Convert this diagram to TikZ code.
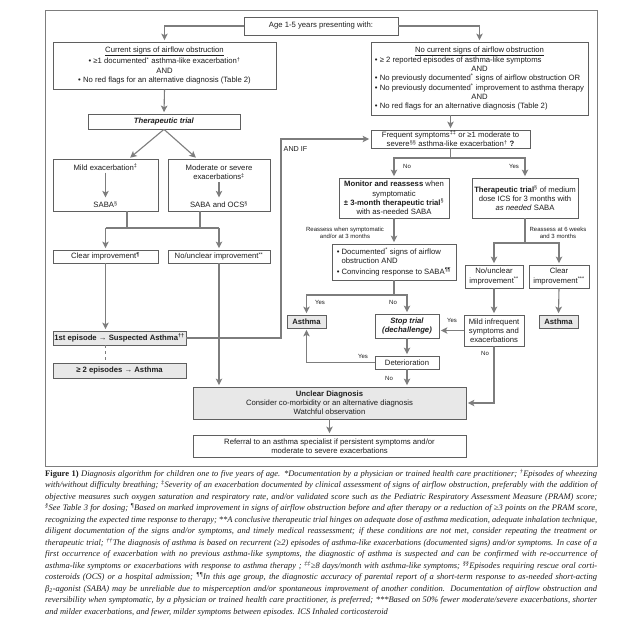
\documentclass[tikz,border=0pt]{standalone}
\usepackage{fontspec}
\setmainfont{Liberation Serif}
\setsansfont{Liberation Sans}
\usetikzlibrary{arrows.meta}
\definecolor{qline}{RGB}{125,125,125}
\definecolor{qbox}{RGB}{95,95,95}
\definecolor{qfill}{RGB}{232,232,232}
\definecolor{qtext}{RGB}{30,30,30}

\begin{document}
\begin{tikzpicture}[x=1pt,y=-1pt,
  box/.style={draw=qbox, line width=0.7pt, inner sep=1pt, align=center, text=qtext,
    font=\sffamily\fontsize{7.7}{9.2}\selectfont},
  grey/.style={box, fill=qfill},
  txt/.style={inner sep=2pt, align=center, text=qtext, font=\sffamily\fontsize{7.7}{9.2}\selectfont},
  lbl/.style={inner sep=0pt, align=center, text=qtext, font=\sffamily\fontsize{6}{7.2}\selectfont},
  link/.style={draw=qline, line width=1.1pt},
  arr/.style={link, -{Stealth[length=6.5pt,width=6.5pt,inset=1.5pt]}, shorten >=1.5pt}]
\useasboundingbox (0,0) rectangle (640,630);
\fill[white] (0,0) rectangle (640,630);

\draw[qline, line width=0.6pt] (45,10) rectangle (597,466);

\node[box, minimum width=154pt, minimum height=18pt] (age) at (321,26) {Age 1-5 years presenting with:};

\node[box, minimum width=223pt, minimum height=47pt] (cur) at (164.5,65.5)
  {\underline{Current signs of airflow obstruction}\\
   • ≥1 documented\textsuperscript{*} asthma-like exacerbation\textsuperscript{†}\\
   AND\\
   • No red flags for an alternative diagnosis (Table 2)};

\node[box, minimum width=217pt, minimum height=73pt] (ncur) at (479.5,78.5)
  {\begin{tabular}{@{}l@{}}
   \multicolumn{1}{@{}c@{}}{\underline{No current signs of airflow obstruction}}\\
   • ≥ 2 reported episodes of asthma-like symptoms\\
   \multicolumn{1}{@{}c@{}}{AND}\\
   • No previously documented\textsuperscript{*} signs of airflow obstruction OR\\
   • No previously documented\textsuperscript{*} improvement to asthma therapy\\
   \multicolumn{1}{@{}c@{}}{AND}\\
   • No red flags for an alternative diagnosis (Table 2)
   \end{tabular}};

\node[box, minimum width=152pt, minimum height=15pt] (ttrial) at (164,121.5) {\textbf{\textit{Therapeutic trial}}};

\node[box, minimum width=105pt, minimum height=52pt] (mild) at (105.5,185) {};
\node[txt] (mildtop) at (105.5,167) {Mild exacerbation\textsuperscript{‡}};
\node[txt] (mildsaba) at (105.5,204.5) {SABA\textsuperscript{§}};

\node[box, minimum width=102pt, minimum height=52pt] (mod) at (219,185) {};
\node[txt] (modtop) at (219,172.5) {Moderate or severe\\ exacerbations\textsuperscript{‡}};
\node[txt] (modsaba) at (219,204.5) {SABA and OCS\textsuperscript{§}};

\node[box, minimum width=105pt, minimum height=13pt] (clear) at (105.5,256.5) {Clear improvement\textsuperscript{\textbf{¶}}};
\node[box, minimum width=102pt, minimum height=13pt] (nounc) at (219,256.5) {No/unclear improvement\textsuperscript{**}};

\node[grey, minimum width=133pt, minimum height=14pt] (first) at (119.5,338) {\textbf{1st episode → Suspected Asthma\textsuperscript{††}}};
\node[grey, minimum width=133pt, minimum height=15pt] (ge2) at (119.5,370.5) {\textbf{≥ 2 episodes → Asthma}};

\node[box, minimum width=159pt, minimum height=18pt] (freq) at (450.5,139)
  {Frequent symptoms\textsuperscript{‡‡} or ≥1 moderate to\\ severe\textsuperscript{§§} asthma-like exacerbation\textsuperscript{†} \textbf{?}};

\node[box, minimum width=110pt, minimum height=40pt] (monitor) at (394,198)
  {\textbf{Monitor and reassess} when\\ symptomatic\\ \textbf{± 3-month therapeutic trial}\textsuperscript{§}\\ with as-needed SABA};
\node[box, minimum width=106pt, minimum height=40pt] (rtrial) at (525,198)
  {\textbf{Therapeutic trial}\textsuperscript{§} of medium\\ dose ICS for 3 months with\\ \textit{as needed} SABA};

\node[box, minimum width=124pt, minimum height=36pt, align=left] (doc) at (394,262)
  {• Documented\textsuperscript{*} signs of airflow\\ \phantom{• }obstruction AND\\[2pt] • Convincing response to SABA\textsuperscript{\textbf{¶¶}}};

\node[box, minimum width=58pt, minimum height=23pt] (rnounc) at (494,276.5) {No/unclear\\ improvement\textsuperscript{**}};
\node[box, minimum width=60pt, minimum height=23pt] (rclear) at (559,276.5) {Clear\\ improvement\textsuperscript{***}};

\node[box, minimum width=60pt, minimum height=31pt] (mildinf) at (494,330.5) {Mild infrequent\\ symptoms and\\ exacerbations};
\node[grey, minimum width=39pt, minimum height=13pt] (rasthma) at (558.5,321.5) {\textbf{Asthma}};

\node[box, minimum width=64pt, minimum height=24pt] (stop) at (407,326) {\textbf{\textit{Stop trial}}\\ \textbf{\textit{(dechallenge)}}};
\node[grey, minimum width=39pt, minimum height=13pt] (masthma) at (306.5,321.5) {\textbf{Asthma}};
\node[box, minimum width=64pt, minimum height=13pt] (deter) at (407,362.5) {Deterioration};

\node[grey, minimum width=273pt, minimum height=32pt] (unclear) at (329.5,403)
  {\textbf{Unclear Diagnosis}\\ Consider co-morbidity or an alternative diagnosis\\ Watchful observation};
\node[box, minimum width=273pt, minimum height=22pt] (referral) at (329.5,446)
  {Referral to an asthma specialist if persistent symptoms and/or\\ moderate to severe exacerbations};

\node[lbl] (lno1) at (407,166) {No};
\node[lbl] (lyes1) at (514,166) {Yes};
\node[lbl] (lreass1) at (345,232.5) {Reassess when symptomatic\\ and/or at 3 months};
\node[lbl] (lreass2) at (558,232.5) {Reassess at 6 weeks\\ and 3 months};
\node[lbl] (lyes2) at (320,302) {Yes};
\node[lbl] (lno2) at (393,302) {No};
\node[lbl] (lyes3) at (452,320) {Yes};
\node[lbl] (lyes4) at (363,356) {Yes};
\node[lbl] (lno3) at (389,378) {No};
\node[lbl] (lno4) at (485,353) {No};
\node[txt, inner sep=0pt, anchor=west, font=\sffamily\fontsize{7.2}{8}\selectfont] (andiflbl) at (283.5,149) {AND IF};

\draw[arr] (age.west) -| (cur.north);
\draw[arr] (age.east) -| (ncur.north);
\draw[arr] (cur.south) -- (ttrial.north);
\draw[arr] (ttrial.south) -- ([xshift=23.5pt]mild.north);
\draw[arr] (ttrial.south) -- ([xshift=-22pt]mod.north);
\draw[arr] (mildtop) -- (mildsaba);
\draw[arr] (modtop) -- (modsaba);

\coordinate (jl) at (105.5,228);
\coordinate (jr) at (219,228);
\draw[link] ([xshift=21.5pt]mild.south) |- (jl);
\draw[link] ([xshift=-19pt]mod.south) |- (jr);
\draw[link] (jl) -- (jr);
\draw[arr] (jl) -- (clear.north);
\draw[arr] (jr) -- (nounc.north);

\draw[arr] (clear.south) -- (clear.south |- first.north);
\draw[qline, line width=0.8pt, dashed] (clear.south |- first.south) -- (clear.south |- ge2.north);
\draw[arr] (nounc.south) -- (nounc.south |- unclear.north);

\coordinate (andif) at (281,139);
\draw[arr] (first.east) -| (andif) -- (freq.west);

\draw[arr] (freq.north |- ncur.south) -- (freq.north);
\coordinate (fsplit) at (450.5,158);
\draw[link] (freq.south) -- (fsplit);
\draw[arr] (fsplit) -| (monitor.north);
\draw[arr] (fsplit) -| (rtrial.north);

\draw[arr] (monitor.south) -- (doc.north);
\coordinate (rsplit) at (525,243);
\draw[link] (rtrial.south) -- (rsplit);
\draw[arr] (rsplit) -| (rnounc.north);
\draw[arr] (rsplit) -| (rclear.north);
\draw[arr] (rnounc.south) -- (mildinf.north);
\draw[arr] (rclear.south) -- (rasthma.north);

\coordinate (dsplit) at (394,295);
\draw[link] (doc.south) -- (dsplit);
\draw[arr] (dsplit) -| (masthma.north);
\draw[arr] (dsplit) -| (stop.north);

\draw[arr] (mildinf.west) -- (mildinf.west -| stop.east);
\draw[arr] (stop.south) -- (deter.north);
\draw[arr] (deter.west) -| (masthma.south);
\draw[arr] (deter.south) -- (deter.south |- unclear.north);
\draw[arr] (mildinf.south) |- (unclear.east);
\draw[arr] (unclear.south) -- (referral.north);

\node[anchor=north west, inner sep=0pt, text width=552pt, align=justify, text=qtext,
  font=\rmfamily\itshape\fontsize{8.5}{11.5}\selectfont] (caption) at (45,469)
  {\textbf{\upshape Figure 1)} Diagnosis algorithm for children one to five years of age. *Documentation by a physician or trained health care practitioner; \textsuperscript{†}Episodes of wheezing\linebreak
  with/without difficulty breathing; \textsuperscript{‡}Severity of an exacerbation documented by clinical assessment of signs of airflow obstruction, preferably with the addition of\linebreak
  objective measures such oxygen saturation and respiratory rate, and/or validated score such as the Pediatric Respiratory Assessment Measure (PRAM) score;\linebreak
  \textsuperscript{§}See Table 3 for dosing; \textsuperscript{¶}Based on marked improvement in signs of airflow obstruction before and after therapy or a reduction of ≥3 points on the PRAM score,\linebreak
  recognizing the expected time response to therapy; **A conclusive therapeutic trial hinges on adequate dose of asthma medication, adequate inhalation technique,\linebreak
  diligent documentation of the signs and/or symptoms, and timely medical reassessment; if these conditions are not met, consider repeating the treatment or\linebreak
  therapeutic trial; \textsuperscript{††}The diagnosis of asthma is based on recurrent (≥2) episodes of asthma-like exacerbations (documented signs) and/or symptoms. In case of a\linebreak
  first occurrence of exacerbation with no previous asthma-like symptoms, the diagnostic of asthma is suspected and can be confirmed with re-occurrence of\linebreak
  asthma-like symptoms or exacerbations with response to asthma therapy ; \textsuperscript{‡‡}≥8 days/month with asthma-like symptoms; \textsuperscript{§§}Episodes requiring rescue oral corti-\linebreak
  costeroids (OCS) or a hospital admission; \textsuperscript{¶¶}In this age group, the diagnostic accuracy of parental report of a short-term response to as-needed short-acting\linebreak
  β\textsubscript{2}-agonist (SABA) may be unreliable due to misperception and/or spontaneous improvement of another condition. Documentation of airflow obstruction and\linebreak
  reversibility when symptomatic, by a physician or trained health care practitioner, is preferred; ***Based on 50\% fewer moderate/severe exacerbations, shorter\linebreak
  and milder exacerbations, and fewer, milder symptoms between episodes. ICS Inhaled corticosteroid\par};

\end{tikzpicture}
\end{document}
